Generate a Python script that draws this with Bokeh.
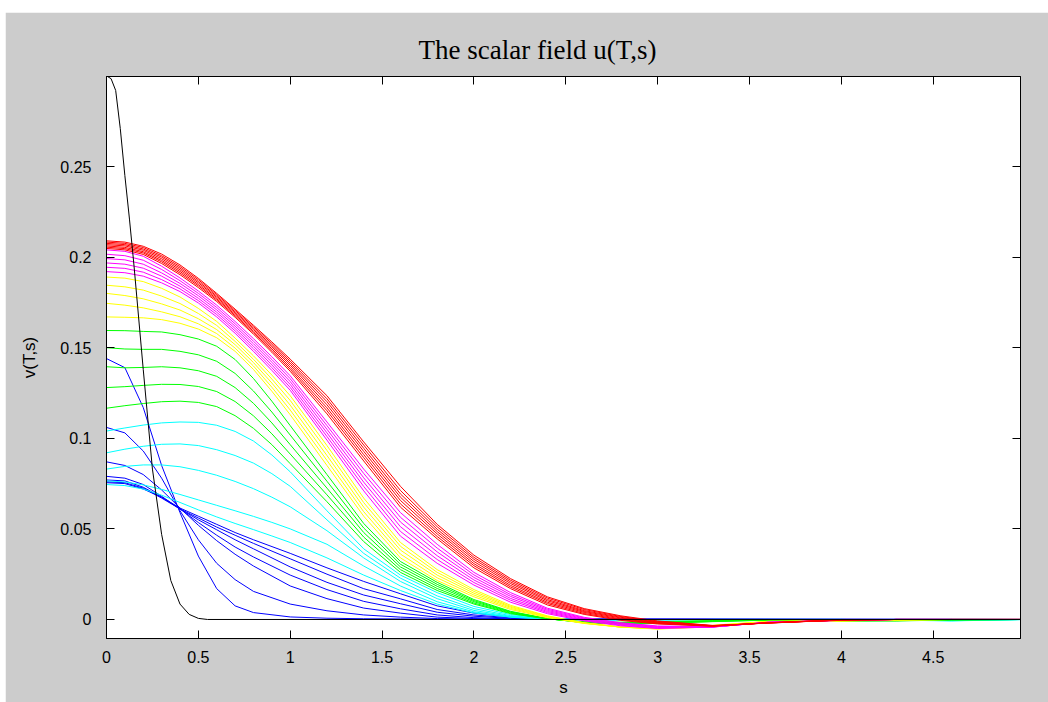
from bokeh.plotting import figure
from bokeh.models import FixedTicker, LinearAxis, CustomJSTickFormatter, Range1d, Spacer
from bokeh.layouts import column, row
from bokeh.embed import file_html
from bokeh.resources import INLINE

# ---------------- data ----------------
title_text = "The scalar field u(T,s)"
x_label = "s"
y_label = "v(T,s)"
x_ticks = [0, 0.5, 1, 1.5, 2, 2.5, 3, 3.5, 4, 4.5]
y_ticks = [0, 0.05, 0.1, 0.15, 0.2, 0.25]

# initial profile (black)
s_black = [0, 0.025, 0.05, 0.075, 0.1, 0.125, 0.15, 0.2, 0.25, 0.3, 0.35, 0.4, 0.45, 0.5, 0.55, 5.0]
v_black = [0.300, 0.2985, 0.292, 0.271, 0.245, 0.221, 0.195, 0.138, 0.083, 0.047, 0.0215, 0.0085, 0.0028, 0.0006, 0.0, 0.0]

# early profiles (blue)
s_blue = [0, 0.1, 0.2, 0.3, 0.4, 0.5, 0.6, 0.7, 0.8, 1.0, 1.2, 1.4, 1.6, 1.8, 2.0, 2.2, 2.4, 5.0]
blue_1 = [0.144, 0.139, 0.117, 0.085, 0.059, 0.035, 0.017, 0.0075, 0.0038, 0.0014, 0.0007, 0.0004, 0.0003, 0.0001, 0, 0, 0, 0]
blue_2 = [0.106, 0.103, 0.093, 0.078, 0.060, 0.044, 0.031, 0.022, 0.0155, 0.0085, 0.0048, 0.0025, 0.0013, 0.0005, 0.0002, 0, 0, 0]
blue_3 = [0.087, 0.085, 0.080, 0.0715, 0.0615, 0.052, 0.0435, 0.036, 0.0295, 0.0185, 0.0115, 0.0063, 0.0035, 0.0013, 0.0005, 0.0001, 0, 0]
blue_4 = [0.079, 0.078, 0.0745, 0.068, 0.061, 0.0535, 0.0465, 0.040, 0.0345, 0.0245, 0.0165, 0.010, 0.0059, 0.0025, 0.001, 0.0003, 0, 0]
blue_5 = [0.077, 0.0765, 0.073, 0.0675, 0.061, 0.055, 0.0495, 0.044, 0.039, 0.029, 0.0205, 0.0135, 0.0087, 0.004, 0.0018, 0.0006, 0.0001, 0]
blue_6 = [0.076, 0.0755, 0.0725, 0.067, 0.061, 0.056, 0.051, 0.0465, 0.042, 0.0335, 0.025, 0.017, 0.0114, 0.0055, 0.0025, 0.0009, 0.0002, 0]
blue_7 = [0.0755, 0.075, 0.072, 0.0675, 0.0615, 0.057, 0.0525, 0.048, 0.044, 0.0365, 0.0285, 0.021, 0.0142, 0.0075, 0.0035, 0.0013, 0.0003, 0]

# later profiles (cyan, green, yellow, magenta, red), common s grid
s_grid = [0, 0.1, 0.2, 0.3, 0.4, 0.5, 0.6, 0.7, 0.8, 0.9, 1.0, 1.2, 1.4, 1.6, 1.8, 2.0, 2.2, 2.4, 2.6, 2.8, 3.0, 3.3, 3.6, 4.0, 4.3, 4.6, 5.0]
cyan_1 = [0.0745, 0.0739, 0.072, 0.0686, 0.0646, 0.0605, 0.0566, 0.053, 0.0496, 0.0461, 0.0425, 0.034, 0.0245, 0.016, 0.0085, 0.0036, 0.0012, 0.0002, 0, 0, -0.0001, 0, 0, 0, -0.0002, -0.0004, 0]
cyan_2 = [0.0765, 0.0759, 0.0743, 0.0718, 0.069, 0.066, 0.063, 0.060, 0.0569, 0.0536, 0.050, 0.0415, 0.0295, 0.0185, 0.0098, 0.0042, 0.0014, 0.0002, 0, -0.0001, -0.0001, 0, 0, 0, -0.0002, -0.0005, 0]
cyan_3 = [0.083, 0.0845, 0.0853, 0.0853, 0.0843, 0.0823, 0.0796, 0.0762, 0.0722, 0.0675, 0.0622, 0.049, 0.034, 0.021, 0.0115, 0.005, 0.0017, 0.0003, -0.0001, -0.0002, -0.0001, 0, 0, 0, -0.0003, -0.0006, 0]
cyan_4 = [0.092, 0.094, 0.0956, 0.0967, 0.0969, 0.096, 0.0937, 0.0905, 0.0863, 0.0805, 0.0735, 0.055, 0.0365, 0.0228, 0.013, 0.006, 0.0021, 0.0004, -0.0002, -0.0003, -0.0002, 0, 0, 0, -0.0003, -0.0007, 0]
cyan_5 = [0.104, 0.1057, 0.1073, 0.1085, 0.109, 0.1088, 0.1072, 0.1038, 0.0985, 0.0908, 0.0815, 0.060, 0.039, 0.0245, 0.0148, 0.0072, 0.0027, 0.0005, -0.0003, -0.0004, -0.0003, -0.0001, 0, 0, -0.0004, -0.0008, 0]

green_1 = [0.1166, 0.118, 0.1192, 0.1202, 0.1205, 0.1198, 0.1175, 0.1125, 0.1055, 0.0965, 0.086, 0.065, 0.043, 0.026, 0.016, 0.0085, 0.0032, 0.0003, -0.0012, -0.0015, -0.0012, -0.0006, -0.0002, -0.0006, -0.0008, -0.0003, 0]
green_2 = [0.128, 0.1285, 0.1292, 0.1298, 0.1297, 0.1286, 0.1258, 0.1203, 0.1124, 0.1025, 0.0913, 0.0688, 0.0455, 0.0275, 0.0171, 0.0091, 0.0035, 0.0004, -0.0014, -0.0018, -0.0015, -0.0008, -0.0003, -0.0007, -0.0007, -0.0002, 0]
green_3 = [0.1395, 0.1389, 0.1391, 0.1395, 0.1389, 0.1373, 0.1342, 0.128, 0.1193, 0.1085, 0.0965, 0.0725, 0.048, 0.029, 0.0183, 0.0098, 0.0039, 0.0004, -0.0015, -0.002, -0.0017, -0.0009, -0.0003, -0.0007, -0.0006, -0.0002, 0]
green_4 = [0.150, 0.1493, 0.1491, 0.1491, 0.148, 0.1461, 0.1425, 0.1358, 0.1261, 0.1145, 0.1018, 0.0763, 0.0505, 0.0305, 0.0194, 0.0104, 0.0042, 0.0004, -0.0017, -0.0023, -0.002, -0.0011, -0.0003, -0.0007, -0.0006, -0.0001, 0]
green_5 = [0.1595, 0.1594, 0.159, 0.1587, 0.1572, 0.1548, 0.1508, 0.1435, 0.133, 0.1205, 0.107, 0.080, 0.053, 0.032, 0.0205, 0.011, 0.0045, 0.0005, -0.0018, -0.0025, -0.0022, -0.0012, -0.0004, -0.0008, -0.0005, 0, 0]

yellow_1 = [0.167, 0.1668, 0.1665, 0.1655, 0.1635, 0.1603, 0.1555, 0.148, 0.138, 0.126, 0.113, 0.085, 0.057, 0.034, 0.0215, 0.0125, 0.0055, 0.001, -0.0022, -0.0042, -0.0048, -0.0032, -0.001, -0.0008, -0.0003, 0, 0]
yellow_2 = [0.1745, 0.1735, 0.172, 0.1698, 0.1671, 0.1632, 0.1578, 0.1498, 0.1399, 0.1282, 0.1156, 0.0878, 0.0595, 0.0361, 0.023, 0.0135, 0.0061, 0.0013, -0.0021, -0.0042, -0.0049, -0.0034, -0.0011, -0.0008, -0.0003, 0, 0]
yellow_3 = [0.180, 0.1788, 0.177, 0.1742, 0.1708, 0.166, 0.160, 0.1517, 0.1418, 0.1305, 0.1183, 0.0905, 0.062, 0.0383, 0.0245, 0.0145, 0.0067, 0.0015, -0.002, -0.0042, -0.005, -0.0036, -0.0012, -0.0007, -0.0003, 0, 0]
yellow_4 = [0.1845, 0.1836, 0.1818, 0.1785, 0.1744, 0.1689, 0.1623, 0.1535, 0.1436, 0.1327, 0.1209, 0.0933, 0.0645, 0.0404, 0.026, 0.0155, 0.0072, 0.0018, -0.0019, -0.0042, -0.0052, -0.0038, -0.0013, -0.0007, -0.0002, 0, 0]
yellow_5 = [0.189, 0.1884, 0.1865, 0.1828, 0.178, 0.1717, 0.1645, 0.1553, 0.1455, 0.1349, 0.1235, 0.096, 0.067, 0.0425, 0.0275, 0.0165, 0.0078, 0.002, -0.0018, -0.0042, -0.0053, -0.004, -0.0014, -0.0006, -0.0002, 0, 0]

magenta_1 = [0.192, 0.1914, 0.1895, 0.1858, 0.181, 0.1747, 0.167, 0.158, 0.148, 0.1375, 0.1265, 0.099, 0.071, 0.046, 0.031, 0.019, 0.0095, 0.0032, -0.0008, -0.0035, -0.005, -0.0042, -0.0015, -0.0005, 0, 0, 0]
magenta_2 = [0.1944, 0.1938, 0.1917, 0.1876, 0.1825, 0.176, 0.1683, 0.1593, 0.1494, 0.139, 0.1281, 0.101, 0.0734, 0.0486, 0.0331, 0.0204, 0.0106, 0.0038, -0.0004, -0.0032, -0.0047, -0.0042, -0.0015, -0.0005, 0, 0, 0]
magenta_3 = [0.1968, 0.1961, 0.1939, 0.1895, 0.184, 0.1773, 0.1696, 0.1606, 0.1508, 0.1405, 0.1297, 0.103, 0.0758, 0.0512, 0.0352, 0.0218, 0.0116, 0.0044, 0, -0.0028, -0.0044, -0.0041, -0.0016, -0.0005, 0, 0, 0]
magenta_4 = [0.1992, 0.1985, 0.1961, 0.1913, 0.1855, 0.1787, 0.1709, 0.1619, 0.1522, 0.142, 0.1313, 0.105, 0.0782, 0.0538, 0.0373, 0.0232, 0.0127, 0.005, 0.0004, -0.0025, -0.0042, -0.0041, -0.0016, -0.0004, 0, 0, 0]
magenta_5 = [0.2016, 0.2008, 0.1983, 0.1932, 0.187, 0.180, 0.1722, 0.1632, 0.1536, 0.1435, 0.1329, 0.107, 0.0806, 0.0564, 0.0394, 0.0246, 0.0137, 0.0056, 0.0008, -0.0021, -0.0039, -0.004, -0.0017, -0.0004, 0, 0, 0]
magenta_6 = [0.204, 0.2032, 0.2005, 0.195, 0.1885, 0.1813, 0.1735, 0.1645, 0.155, 0.145, 0.1345, 0.109, 0.083, 0.059, 0.0415, 0.026, 0.0148, 0.0062, 0.0012, -0.0018, -0.0036, -0.004, -0.0017, -0.0004, 0, 0, 0]

red_1 = [0.2048, 0.2040, 0.2015, 0.1965, 0.1903, 0.1832, 0.1755, 0.1668, 0.1575, 0.1475, 0.137, 0.1135, 0.0875, 0.062, 0.0445, 0.0285, 0.017, 0.008, 0.0028, -0.0005, -0.0025, -0.0037, -0.0018, -0.0003, 0, 0, 0]
red_2 = [0.2055, 0.2047, 0.2023, 0.1974, 0.1912, 0.1841, 0.1763, 0.1676, 0.1583, 0.1485, 0.1381, 0.1152, 0.0893, 0.0638, 0.0458, 0.0297, 0.0179, 0.0088, 0.0033, -0.0001, -0.0022, -0.0037, -0.0018, -0.0003, 0, 0, 0]
red_3 = [0.2062, 0.2054, 0.2030, 0.1982, 0.1921, 0.1849, 0.1770, 0.1683, 0.1591, 0.1494, 0.1392, 0.1168, 0.0910, 0.0657, 0.0472, 0.0308, 0.0188, 0.0095, 0.0039, 0.0003, -0.0019, -0.0036, -0.0019, -0.0003, 0, 0, 0]
red_4 = [0.2069, 0.2062, 0.2038, 0.1991, 0.1930, 0.1858, 0.1778, 0.1691, 0.1600, 0.1504, 0.1404, 0.1185, 0.0928, 0.0675, 0.0485, 0.0320, 0.0198, 0.0103, 0.0044, 0.0008, -0.0017, -0.0035, -0.0019, -0.0003, 0, 0, 0]
red_5 = [0.2076, 0.2069, 0.2045, 0.2000, 0.1939, 0.1866, 0.1785, 0.1698, 0.1608, 0.1513, 0.1415, 0.1202, 0.0945, 0.0693, 0.0498, 0.0332, 0.0207, 0.011, 0.0049, 0.0012, -0.0014, -0.0035, -0.0019, -0.0003, 0, 0, 0]
red_6 = [0.2083, 0.2076, 0.2053, 0.2008, 0.1948, 0.1875, 0.1793, 0.1706, 0.1616, 0.1523, 0.1426, 0.1218, 0.0963, 0.0712, 0.0512, 0.0343, 0.0216, 0.0118, 0.0055, 0.0016, -0.0011, -0.0034, -0.0020, -0.0003, 0, 0, 0]
red_7 = [0.209, 0.2083, 0.206, 0.2017, 0.1957, 0.1883, 0.1800, 0.1713, 0.1624, 0.1532, 0.1437, 0.1235, 0.098, 0.0735, 0.0525, 0.0355, 0.0225, 0.0125, 0.006, 0.002, -0.0008, -0.0033, -0.002, -0.0003, 0, 0, 0]

blue_curves = [blue_1, blue_2, blue_3, blue_4, blue_5, blue_6, blue_7]
cyan_curves = [cyan_1, cyan_2, cyan_3, cyan_4, cyan_5]
green_curves = [green_1, green_2, green_3, green_4, green_5]
yellow_curves = [yellow_1, yellow_2, yellow_3, yellow_4, yellow_5]
magenta_curves = [magenta_1, magenta_2, magenta_3, magenta_4, magenta_5, magenta_6]
red_curves = [red_1, red_2, red_3, red_4, red_5, red_6, red_7]

# ---------------- figure ----------------
p = figure(frame_width=914, frame_height=562,
           min_border_left=101, min_border_right=28,
           min_border_top=64, min_border_bottom=64,
           x_range=Range1d(0, 4.975), y_range=Range1d(-0.0105, 0.2997),
           output_backend="svg", toolbar_location=None)
p.background_fill_color = "white"
p.border_fill_color = "#cccccc"
p.outline_line_color = "black"
p.outline_line_width = 1
p.xgrid.visible = False
p.ygrid.visible = False

p.title.text = title_text
p.title.align = "left"
p.title.offset = 312
p.title.standoff = 23
p.title.text_font = "Liberation Serif"
p.title.text_font_size = "27px"
p.title.text_font_style = "normal"
p.title.text_color = "black"

fmt_code = "return String(Math.round(tick * 100) / 100);"


def style_axis(ax, ticks, show, label_standoff=10, tick_standoff=10):
    ax.ticker = FixedTicker(ticks=ticks)
    ax.formatter = CustomJSTickFormatter(code=fmt_code)
    ax.major_tick_in = 8
    ax.major_tick_out = 0
    ax.minor_tick_line_color = None
    ax.axis_line_color = "black"
    ax.major_tick_line_color = "black"
    ax.major_label_text_font = "Liberation Sans"
    if show:
        ax.major_label_text_color = "black"
        ax.major_label_text_font_size = "16px"
        ax.major_label_standoff = tick_standoff
        ax.axis_label_text_font = "Liberation Sans"
        ax.axis_label_text_font_size = "17px"
        ax.axis_label_text_font_style = "normal"
        ax.axis_label_text_color = "black"
        ax.axis_label_standoff = label_standoff
    else:
        # mirrored tick marks only (no labels drawn)
        ax.major_label_text_color = None
        ax.major_label_text_font_size = "1px"
        ax.major_label_standoff = 0


style_axis(p.xaxis[0], x_ticks, True, label_standoff=12, tick_standoff=12)
style_axis(p.yaxis[0], y_ticks, True, label_standoff=18, tick_standoff=15)
p.xaxis[0].axis_label = x_label
p.yaxis[0].axis_label = y_label

top_axis = LinearAxis()
style_axis(top_axis, x_ticks, False)
p.add_layout(top_axis, "above")
right_axis = LinearAxis()
style_axis(right_axis, y_ticks, False)
p.add_layout(right_axis, "right")

for c in blue_curves:
    p.line(s_blue, c, line_color="#0000ff", line_width=1)
for c in cyan_curves:
    p.line(s_grid, c, line_color="#00ffff", line_width=1)
for c in green_curves:
    p.line(s_grid, c, line_color="#00ff00", line_width=1)
for c in yellow_curves:
    p.line(s_grid, c, line_color="#ffff00", line_width=1)
for c in magenta_curves:
    p.line(s_grid, c, line_color="#ff00ff", line_width=1)
for c in red_curves:
    p.line(s_grid, c, line_color="#ff0000", line_width=1)
p.line(s_black, v_black, line_color="black", line_width=1)

# thin white window margin at top and left, as in the screenshot
layout = column(Spacer(height=12, width=1048), row(Spacer(width=5, height=690), p))

open("out.html", "w").write(file_html(layout, INLINE))
